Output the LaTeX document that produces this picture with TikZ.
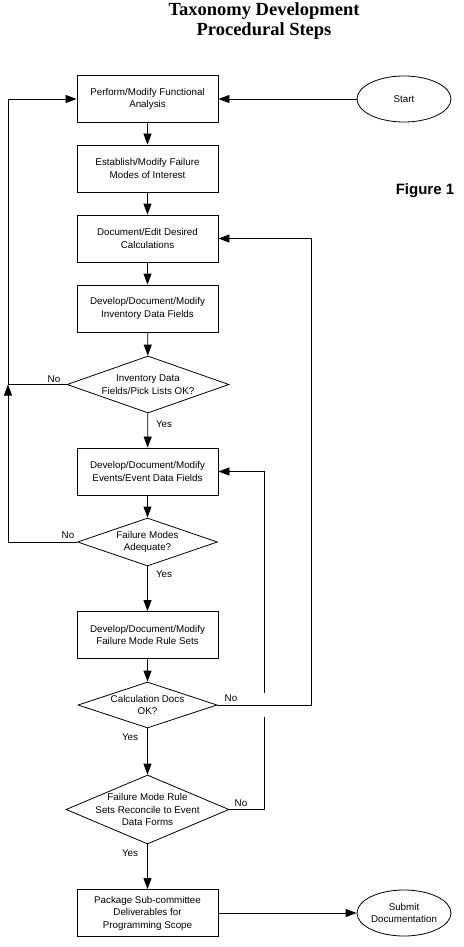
\documentclass[tikz,border=0pt]{standalone}
\usepackage{fontspec}
\setmainfont{Liberation Sans}
\newfontfamily\titlefont{Liberation Serif}
\usetikzlibrary{shapes.geometric,arrows.meta,calc}
\begin{document}
\begin{tikzpicture}[x=1pt,y=-1pt,
  every node/.style={font=\fontsize{9.8}{12.5}\selectfont},
  procbox/.style={draw, line width=0.8pt, minimum width=141pt, minimum height=47pt, align=center, inner sep=0pt},
  decision/.style={draw, diamond, line width=0.8pt, inner sep=0pt},
  terminal/.style={draw, ellipse, line width=0.8pt, minimum width=94pt, minimum height=46pt, align=center, inner sep=0pt},
  flow/.style={line width=0.8pt, -{Triangle[length=11pt,width=8pt]}},
  link/.style={line width=0.8pt},
  answer/.style={inner sep=0pt}
]
\useasboundingbox (0,0) rectangle (463,947);

\node[font=\titlefont\bfseries\fontsize{18.5}{20}\selectfont, align=center] (title) at (264,21) {Taxonomy Development\\Procedural Steps};
\node[font=\bfseries\fontsize{15}{18}\selectfont] (fig) at (425,191) {Figure 1};

\node[procbox] (b1) at (147.5,99) {Perform/Modify Functional\\Analysis};
\node[procbox] (b2) at (147.5,168.5) {Establish/Modify Failure\\Modes of Interest};
\node[procbox] (b3) at (147.5,238.5) {Document/Edit Desired\\Calculations};
\node[procbox] (b4) at (147.5,308.5) {Develop/Document/Modify\\Inventory Data Fields};
\node[decision, minimum width=162pt, minimum height=57pt,
  label={[align=center]center:Inventory Data\\Fields/Pick Lists OK?}] (d1) at (148,384.5) {};
\node[procbox] (b5) at (147.5,471.5) {Develop/Document/Modify\\Events/Event Data Fields};
\node[decision, minimum width=140pt, minimum height=48pt,
  label={[align=center]center:Failure Modes\\Adequate?}] (d2) at (147.5,542) {};
\node[procbox] (b6) at (147.5,635) {Develop/Document/Modify\\Failure Mode Rule Sets};
\node[decision, minimum width=139pt, minimum height=46pt,
  label={[align=center]center:Calculation Docs\\OK?}] (d3) at (147.5,705) {};
\node[decision, minimum width=163pt, minimum height=69pt,
  label={[align=center]center:Failure Mode Rule\\Sets Reconcile to Event\\Data Forms}] (d4) at (147.5,809.5) {};
\node[procbox] (b7) at (147.5,913) {Package Sub-committee\\Deliverables for\\Programming Scope};

\node[terminal] (start) at (404,99) {Start};
\node[terminal] (submit) at (404,913) {Submit\\Documentation};

\node[answer] (no1) at (54,379) {No};
\node[answer] (yes1) at (164,424) {Yes};
\node[answer] (no2) at (68,535) {No};
\node[answer] (yes2) at (164,574) {Yes};
\node[answer] (no3) at (231,698) {No};
\node[answer] (yes3) at (130,737) {Yes};
\node[answer] (no4) at (241,803) {No};
\node[answer] (yes4) at (130,853) {Yes};

\coordinate (L1) at (8,384.5);
\coordinate (R1) at (311,705);
\coordinate (R2) at (264,809.5);
\coordinate (X) at (264,705);

\draw[flow] (start) -- (b1);
\draw[flow] (b1) -- (b2);
\draw[flow] (b2) -- (b3);
\draw[flow] (b3) -- (b4);
\draw[flow] (b4) -- (d1);
\draw[flow] (d1) -- (b5);
\draw[flow] (b5) -- (d2);
\draw[flow] (d2) -- (b6);
\draw[flow] (b6) -- (d3);
\draw[flow] (d3) -- (d4);
\draw[flow] (d4) -- (b7);
\draw[flow] (b7) -- (submit);

\draw[link] (d1.west) -- (L1);
\draw[flow] (L1) |- (b1.west);
\draw[flow] (d2.west) -| (L1);

\draw[flow] (d4.east) -- (R2) |- (b5.east);
\fill[white] ($(X)+(-3,-12)$) rectangle ($(X)+(3,12)$);
\draw[flow] (d3.east) -- (R1) |- (b3.east);
\end{tikzpicture}
\end{document}
